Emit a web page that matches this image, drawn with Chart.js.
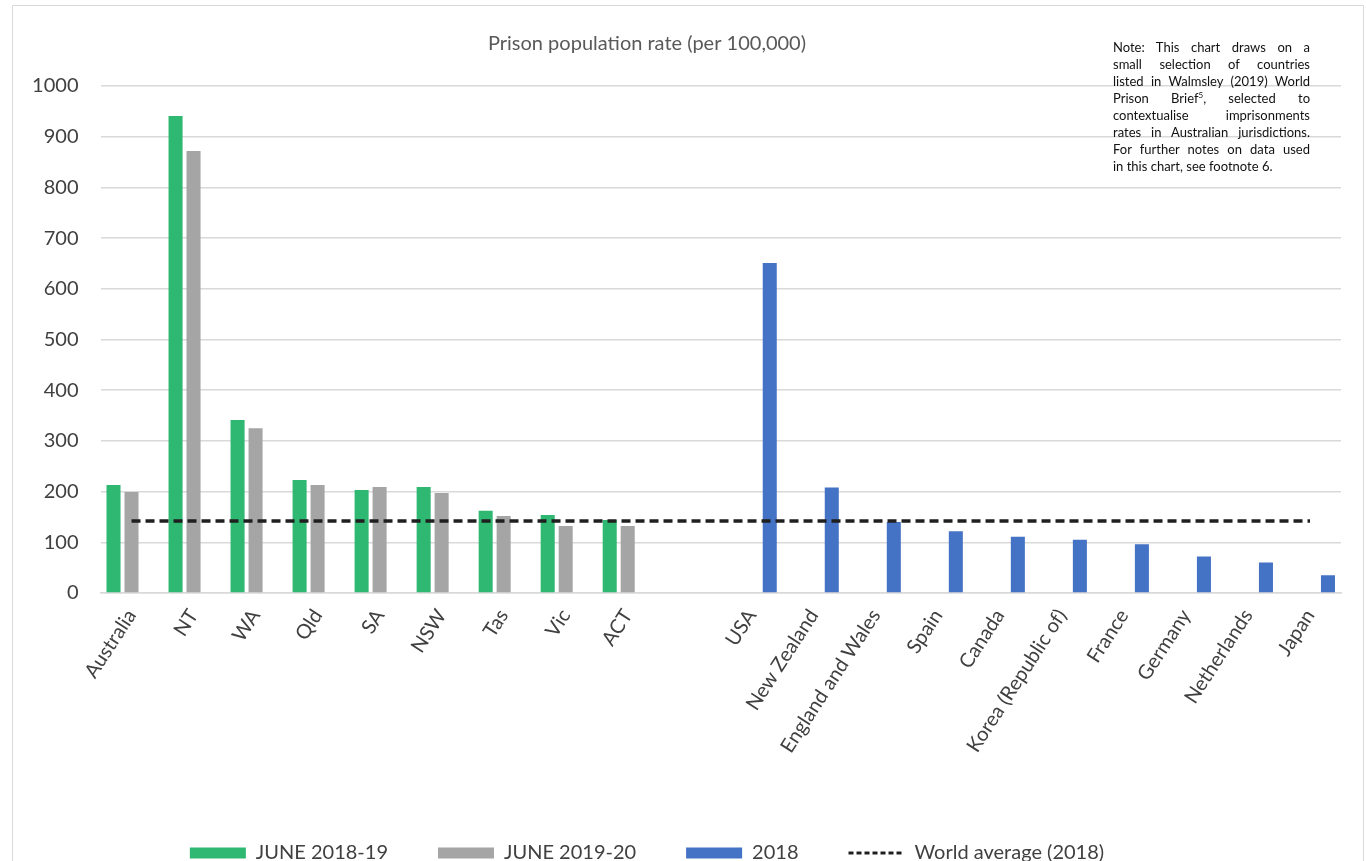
<!DOCTYPE html>
<html>
<head>
<meta charset="utf-8">
<title>Prison population rate (per 100,000)</title>
<script src="https://cdn.jsdelivr.net/npm/chart.js@4.4.1/dist/chart.umd.min.js"></script>
<style>
  html, body { margin: 0; padding: 0; overflow: hidden; background: #fff; }
  #frame {
    position: absolute; left: 12px; top: 5px;
    width: 1352px; height: 869px;
    border: 1px solid #d9d9d9; box-sizing: border-box;
  }
  #wrap { position: relative; width: 100%; height: 100%; }
  #note {
    position: absolute; left: 1113px; top: 39px; width: 197px;
    font-family: Lato, sans-serif; font-size: 13px; line-height: 17px; color: #111;
  }
  #note span { display: block; text-align: justify; text-align-last: justify; white-space: nowrap; }
  #note span.last { text-align-last: left; }
  #note sup { font-size: 8px; line-height: 0; }
</style>
</head>
<body>
<div id="frame"><div id="wrap"><canvas id="prisonChart"></canvas></div></div>
<div id="note">
  <span>Note: This chart draws on a</span>
  <span>small selection of countries</span>
  <span>listed in Walmsley (2019) World</span>
  <span>Prison Brief<sup>5</sup>, selected to</span>
  <span>contextualise imprisonments</span>
  <span>rates in Australian jurisdictions.</span>
  <span>For further notes on data used</span>
  <span class="last">in this chart, see footnote 6.</span>
</div>
<script>
// Categories (blank one separates Australian jurisdictions from countries)
const labels = ['Australia', 'NT', 'WA', 'Qld', 'SA', 'NSW', 'Tas', 'Vic', 'ACT', '',
  'USA', 'New Zealand', 'England and Wales', 'Spain', 'Canada', 'Korea (Republic of)',
  'France', 'Germany', 'Netherlands', 'Japan'];

// Series values (per 100,000)
const june1819 = [213, 941, 341, 223, 203, 209, 162, 154, 144, null,
  null, null, null, null, null, null, null, null, null, null];
const june1920 = [199, 872, 325, 213, 209, 197, 152, 132, 132, null,
  null, null, null, null, null, null, null, null, null, null];
const rate2018 = [null, null, null, null, null, null, null, null, null, null,
  651, 208, 140, 122, 111, 105, 96, 72, 60, 35];
const worldAverage = [142, 142, 142, 142, 142, 142, 142, 142, 142, 142,
  142, 142, 142, 142, 142, 142, 142, 142, 142, 142];

// Y axis ticks
const yMin = 0;
const yMax = 1000;
const yStep = 100;

const chartTitle = 'Prison population rate (per 100,000)';

const FONT = 'Lato, sans-serif';
const TEXT_COLOR = '#404040';

// Draw title off-centre, like the original
const titlePlugin = {
  id: 'offsetTitle',
  afterDraw(chart) {
    const ctx = chart.ctx;
    ctx.save();
    ctx.font = '20px ' + FONT;
    ctx.fillStyle = '#595959';
    ctx.textAlign = 'center';
    ctx.textBaseline = 'middle';
    ctx.fillText(chartTitle, chart.width / 2 - 41, 38);
    ctx.restore();
  }
};

// Shift legend block to the left
const legendShift = {
  id: 'legendShift',
  afterLayout(chart) {
    if (chart.legend) chart.legend.right -= 60;
  }
};

const ctx = document.getElementById('prisonChart').getContext('2d');
const prisonChart = new Chart(ctx, {
  type: 'bar',
  data: {
    labels: labels,
    datasets: [
      {
        label: 'JUNE 2018-19',
        data: june1819,
        backgroundColor: '#2eb872',
        categoryPercentage: 0.87,
        barPercentage: 0.78
      },
      {
        label: 'JUNE 2019-20',
        data: june1920,
        backgroundColor: '#a5a5a5',
        categoryPercentage: 0.87,
        barPercentage: 0.78
      },
      {
        label: '2018',
        data: rate2018,
        backgroundColor: '#4472c4',
        categoryPercentage: 0.87,
        barPercentage: 0.78
      },
      {
        type: 'line',
        label: 'World average (2018)',
        data: worldAverage,
        borderColor: '#1f1f1f',
        backgroundColor: '#1f1f1f',
        borderWidth: 3.5,
        borderDash: [9, 5],
        pointRadius: 0,
        tension: 0,
        order: -1
      }
    ]
  },
  options: {
    responsive: true,
    maintainAspectRatio: false,
    animation: false,
    layout: { padding: { top: 80, right: 22, left: 0, bottom: 0 } },
    scales: {
      x: {
        offset: true,
        grid: { display: false },
        border: { display: true, color: '#d9d9d9', width: 1.5 },
        ticks: {
          autoSkip: false,
          maxRotation: 57,
          minRotation: 57,
          padding: 4,
          color: TEXT_COLOR,
          font: { family: FONT, size: 20 }
        },
        afterFit(scale) { scale.height = 200; }
      },
      y: {
        min: yMin,
        max: yMax,
        grid: { color: '#d9d9d9', lineWidth: 1.5, drawTicks: false },
        border: { display: false },
        ticks: {
          stepSize: yStep,
          padding: 22,
          color: TEXT_COLOR,
          font: { family: FONT, size: 20 },
          callback: value => String(value)
        },
        afterFit(scale) { scale.width = 87.5; }
      }
    },
    plugins: {
      title: { display: false },
      tooltip: { enabled: false },
      legend: {
        position: 'bottom',
        labels: {
          usePointStyle: true,
          pointStyleWidth: 56,
          boxHeight: 11,
          padding: 50,
          color: TEXT_COLOR,
          font: { family: FONT, size: 20 },
          sort: (a, b) => a.datasetIndex - b.datasetIndex,
          generateLabels(chart) {
            const items = Chart.defaults.plugins.legend.labels.generateLabels(chart);
            items.forEach(item => {
              const ds = chart.data.datasets[item.datasetIndex];
              if (ds.type === 'line') {
                item.pointStyle = 'line';
                item.lineWidth = 3;
                item.lineDash = [5, 3];
                item.strokeStyle = ds.borderColor;
              } else {
                item.pointStyle = 'rect';
                item.lineWidth = 0;
              }
            });
            return items;
          }
        }
      }
    }
  },
  plugins: [titlePlugin, legendShift]
});
</script>
</body>
</html>
